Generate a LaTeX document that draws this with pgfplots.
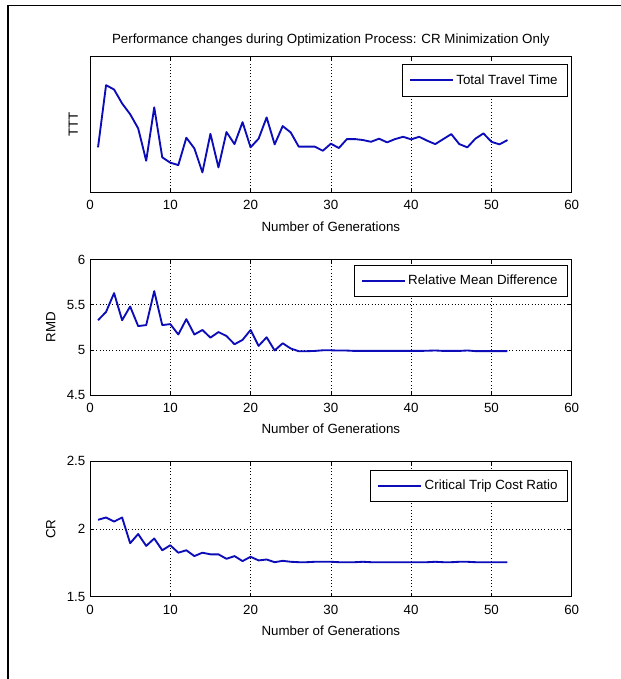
\documentclass[border=0pt]{standalone}
\usepackage{fontspec}
\setmainfont{Liberation Sans}
\usepackage{pgfplots}
\pgfplotsset{compat=1.18}

\definecolor{mblue}{RGB}{12,12,185}

\pgfplotsset{
  mstyle/.style={
    scale only axis, width=361.3pt, height=101.6pt,
    xmin=0, xmax=60, xtick={0,10,...,60},
    tick align=inside, tick pos=both,
    major tick length=3pt,
    every tick/.style={black, line width=0.5pt},
    axis line style={black, line width=0.6pt},
    grid=major,
    major grid style={black, line width=0.45pt, dash pattern=on 0.6pt off 1.8pt},
    font=\fontsize{10}{12}\selectfont,
    tick label style={font=\fontsize{10}{12}\selectfont},
    /pgf/number format/assume math mode=true,
    xticklabel style={yshift=-2.5pt},
    xlabel={Number of Generations},
    xlabel style={at={(axis description cs:0.5,0)}, anchor=center, yshift=-25.5pt},
    ylabel style={at={(axis description cs:0,0.5)}, anchor=center},
    legend cell align=left,
    legend style={at={(1,1)}, anchor=north east, draw=black, line width=0.6pt,
      font=\fontsize{10}{12}\selectfont, inner xsep=5pt, inner ysep=5.5pt,
      nodes={inner xsep=2pt}},
    legend image code/.code={\draw[mblue, line width=1.4pt] (0pt,0pt) -- (32pt,0pt);},
  },
  mline/.style={mblue, line width=1.4pt, line join=round, no markers},
}

\begin{document}
\begin{tikzpicture}
\path[use as bounding box] (0,0) rectangle (465.75pt,509.25pt);
\draw[line width=1.2pt] (6.2pt,0pt) -- (6.2pt,505pt) -- (465.75pt,505pt);

% Total Travel Time (no y tick labels in the original)
\begin{axis}[mstyle, at={(67.5pt,365pt)}, anchor=south west,
  ymin=0, ymax=1, ytick=\empty,
  ylabel={TTT}, ylabel style={yshift=12.5pt},
  title={Performance changes during Optimization Process: CR Minimization Only},
  title style={at={(0.5,1)}, anchor=base, yshift=4.3pt, font=\fontsize{10}{12}\selectfont},
  legend style={xshift=-3.3pt, yshift=-5.5pt}]
\addplot[mline] coordinates {
(1,0.332)(2,0.791)(3,0.759)(4,0.656)(5,0.577)(6,0.472)(7,0.233)(8,0.627)
(9,0.258)(10,0.219)(11,0.201)(12,0.403)(13,0.324)(14,0.147)(15,0.432)(16,0.184)
(17,0.445)(18,0.356)(19,0.518)(20,0.332)(21,0.396)(22,0.553)(23,0.354)(24,0.489)
(25,0.442)(26,0.337)(27,0.337)(28,0.337)(29,0.307)(30,0.359)(31,0.327)(32,0.393)
(33,0.393)(34,0.386)(35,0.373)(36,0.396)(37,0.369)(38,0.393)(39,0.410)(40,0.391)
(41,0.410)(42,0.381)(43,0.356)(44,0.393)(45,0.430)(46,0.356)(47,0.332)(48,0.396)
(49,0.435)(50,0.373)(51,0.354)(52,0.386)};
\addlegendentry{Total Travel Time}
\end{axis}

% Relative Mean Difference
\begin{axis}[mstyle, at={(67.5pt,213pt)}, anchor=south west,
  ymin=4.5, ymax=6, ytick={4.5,5,5.5,6},
  yticklabel style={/pgf/number format/fixed},
  ylabel={RMD}, ylabel style={yshift=29.5pt},
  legend style={xshift=-3.3pt, yshift=-3.8pt}]
\addplot[mline] coordinates {
(1,5.328)(2,5.420)(3,5.628)(4,5.328)(5,5.480)(6,5.263)(7,5.274)(8,5.650)
(9,5.274)(10,5.285)(11,5.170)(12,5.340)(13,5.170)(14,5.220)(15,5.135)(16,5.197)
(17,5.153)(18,5.062)(19,5.110)(20,5.220)(21,5.044)(22,5.139)(23,4.993)(24,5.073)
(25,5.015)(26,4.985)(27,4.985)(28,4.988)(29,4.995)(30,4.995)(31,4.992)(32,4.992)
(33,4.988)(34,4.988)(35,4.988)(36,4.988)(37,4.988)(38,4.988)(39,4.988)(40,4.988)
(41,4.988)(42,4.990)(43,4.993)(44,4.988)(45,4.988)(46,4.988)(47,4.993)(48,4.986)
(49,4.986)(50,4.986)(51,4.986)(52,4.986)};
\addlegendentry{Relative Mean Difference}
\end{axis}

% Critical Trip Cost Ratio
\begin{axis}[mstyle, at={(67.5pt,61.7pt)}, anchor=south west,
  ymin=1.5, ymax=2.5, ytick={1.5,2,2.5},
  yticklabel style={/pgf/number format/fixed},
  ylabel={CR}, ylabel style={yshift=29.5pt},
  legend style={xshift=-3.3pt, yshift=-6.2pt}]
\addplot[mline] coordinates {
(1,2.068)(2,2.085)(3,2.055)(4,2.085)(5,1.895)(6,1.963)(7,1.875)(8,1.930)
(9,1.843)(10,1.880)(11,1.825)(12,1.843)(13,1.800)(14,1.825)(15,1.813)(16,1.813)
(17,1.780)(18,1.800)(19,1.763)(20,1.795)(21,1.768)(22,1.775)(23,1.755)(24,1.765)
(25,1.758)(26,1.755)(27,1.755)(28,1.758)(29,1.758)(30,1.758)(31,1.755)(32,1.755)
(33,1.755)(34,1.758)(35,1.755)(36,1.755)(37,1.755)(38,1.755)(39,1.755)(40,1.755)
(41,1.755)(42,1.755)(43,1.758)(44,1.755)(45,1.755)(46,1.758)(47,1.758)(48,1.755)
(49,1.755)(50,1.755)(51,1.755)(52,1.755)};
\addlegendentry{Critical Trip Cost Ratio}
\end{axis}
\end{tikzpicture}
\end{document}
